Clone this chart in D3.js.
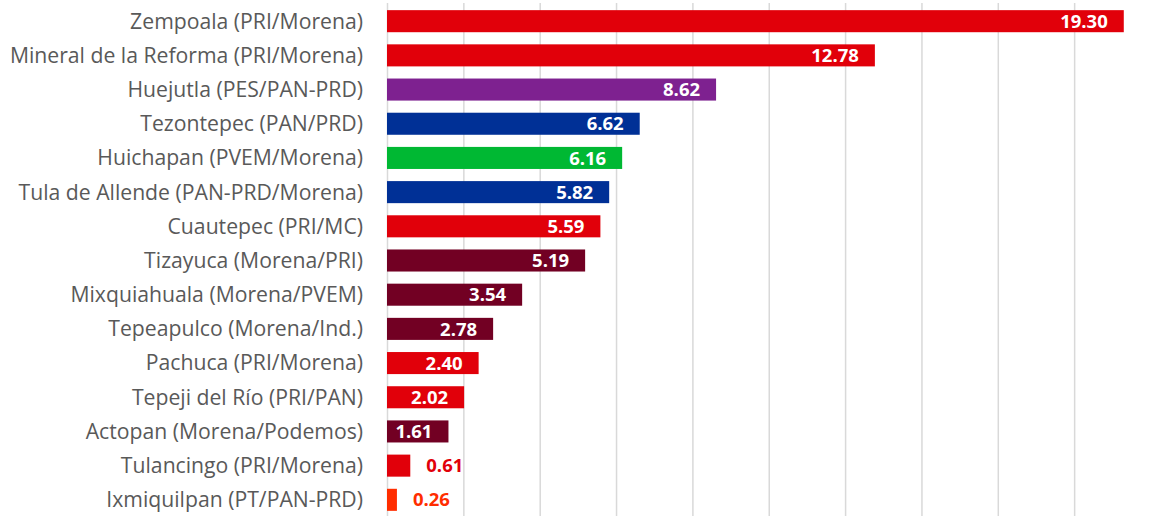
<!DOCTYPE html>
<html>
<head>
    <meta charset="UTF-8">
    <title>Municipios Hidalgo</title>
    <script src="https://cdn.jsdelivr.net/npm/d3@7/dist/d3.min.js"></script>
    <style>
        body { margin: 0; background: #fff; }
        .cat text { font: 21.2px "Open Sans", sans-serif; fill: #595959; }
        .val { font: bold 18.5px "Open Sans", sans-serif; }
        .grid line { stroke: #d9d9d9; stroke-width: 1.5px; }
        .grid path { display: none; }
    </style>
</head>
<body>
<script>
    // data
    var municipios = [
        "Zempoala (PRI/Morena)",
        "Mineral de la Reforma (PRI/Morena)",
        "Huejutla (PES/PAN-PRD)",
        "Tezontepec (PAN/PRD)",
        "Huichapan (PVEM/Morena)",
        "Tula de Allende (PAN-PRD/Morena)",
        "Cuautepec (PRI/MC)",
        "Tizayuca (Morena/PRI)",
        "Mixquiahuala (Morena/PVEM)",
        "Tepeapulco (Morena/Ind.)",
        "Pachuca (PRI/Morena)",
        "Tepeji del Río (PRI/PAN)",
        "Actopan (Morena/Podemos)",
        "Tulancingo (PRI/Morena)",
        "Ixmiquilpan (PT/PAN-PRD)"
    ];
    var margen = [19.30, 12.78, 8.62, 6.62, 6.16, 5.82, 5.59, 5.19, 3.54, 2.78, 2.40, 2.02, 1.61, 0.61, 0.26];
    var ganador = ["PRI", "PRI", "PES", "PAN", "PVEM", "PAN", "PRI", "Morena", "Morena", "Morena", "PRI", "PRI", "Morena", "PRI", "PT"];

    var partidos = ["PRI", "PES", "PAN", "PVEM", "Morena", "PT"];
    var colores = ["#e1000a", "#7e2190", "#003096", "#00b833", "#720023", "#ff2d00"];

    var width = 1149, height = 516;
    var x0 = 387;

    var svg = d3.select("body").append("svg")
        .attr("width", width)
        .attr("height", height);

    var x = d3.scaleLinear().domain([0, 20]).range([x0, x0 + 763.5]);
    var y = d3.scaleBand().domain(municipios).range([4, 517]).paddingInner(0.355).paddingOuter(0.18);
    var color = d3.scaleOrdinal().domain(partidos).range(colores);

    // vertical gridlines
    svg.append("g")
        .attr("class", "grid")
        .attr("transform", "translate(0," + height + ")")
        .call(d3.axisBottom(x).tickValues(d3.range(0, 21, 2)).tickSize(-(height - 3)).tickFormat(""));

    var rows = municipios.map(function (m, i) {
        return { name: m, value: margen[i], party: ganador[i] };
    });

    // category labels
    svg.append("g")
        .attr("class", "cat")
        .selectAll("text")
        .data(rows)
        .enter().append("text")
        .attr("x", x0 - 24)
        .attr("y", function (d) { return y(d.name) + y.bandwidth() / 2; })
        .attr("dy", ".35em")
        .attr("text-anchor", "end")
        .text(function (d) { return d.name; });

    svg.append("g")
        .selectAll("rect")
        .data(rows)
        .enter().append("rect")
        .attr("x", x(0))
        .attr("y", function (d) { return y(d.name); })
        .attr("width", function (d) { return x(d.value) - x(0); })
        .attr("height", y.bandwidth())
        .attr("fill", function (d) { return color(d.party); });

    // value labels: inside end, or outside when the bar is too short
    svg.append("g")
        .selectAll("text")
        .data(rows)
        .enter().append("text")
        .attr("class", "val")
        .attr("x", function (d) { return d.value >= 1 ? x(d.value) - 16 : x(d.value) + 16; })
        .attr("y", function (d) { return y(d.name) + y.bandwidth() / 2; })
        .attr("dy", ".36em")
        .attr("text-anchor", function (d) { return d.value >= 1 ? "end" : "start"; })
        .attr("fill", function (d) { return d.value >= 1 ? "#fff" : color(d.party); })
        .text(function (d) { return d.value.toFixed(2); });
</script>
</body>
</html>
